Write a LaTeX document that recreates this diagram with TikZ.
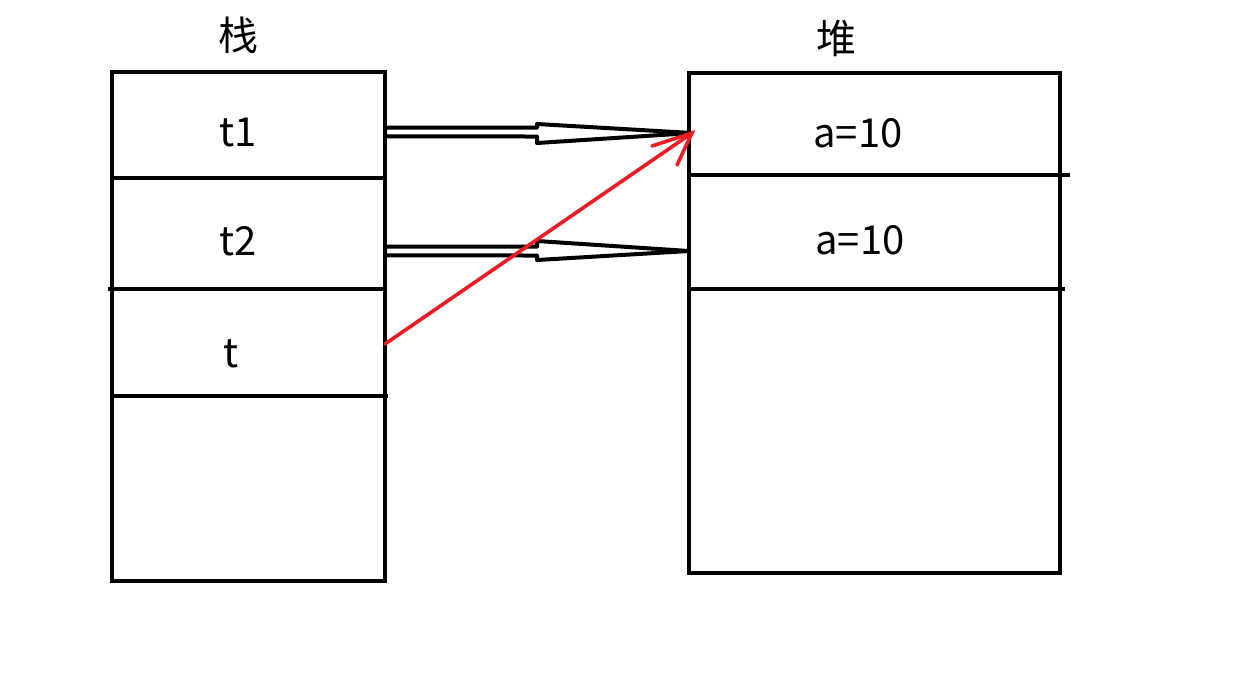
\documentclass[tikz,border=0pt]{standalone}
\usepackage{fontspec}
\setmainfont{Noto Sans CJK SC}
\begin{document}
\begin{tikzpicture}[x=0.5pt,y=-0.5pt,
  box/.style={draw=black,line width=2pt},
  divider/.style={draw=black,line width=2pt},
  lbl/.style={font=\fontsize{20pt}{24pt}\selectfont,inner sep=0pt,anchor=center},
  hollow/.style={draw=black,fill=white,line width=2pt,line join=round,line cap=round},
  ptr/.style={draw={rgb,255:red,237;green,28;blue,36},line width=1.8pt,line cap=round}]
\useasboundingbox (0,0) rectangle (1242,692);
% stack
\draw[box] (112,72) rectangle (385,581);
\draw[divider] (112,178) -- (385,178);
\draw[divider] (108,289) -- (385,289);
\draw[divider] (112,396) -- (388,396);
% heap
\draw[box] (689,73) rectangle (1060,573);
\draw[divider] (689,175) -- (1070,175);
\draw[divider] (689,289) -- (1065,289);
% labels
\node[lbl] (zhan) at (238,35) {栈};
\node[lbl] (dui) at (836,38) {堆};
\node[lbl] (t1) at (238,132) {t1};
\node[lbl] (t2) at (238,241) {t2};
\node[lbl] (t) at (231,354) {t};
\node[lbl] (a1) at (858,133) {a=10};
\node[lbl] (a2) at (860,240) {a=10};
% anchor coordinates
\coordinate (s1) at (385,132);
\coordinate (h1) at (692,133);
\coordinate (s2) at (385,251);
\coordinate (h2) at (689,251);
\coordinate (s3) at (385,344);
% hollow arrows
\draw[hollow] ([yshift=2.2pt]s1) -- (537,127.5) -- (537,124) -- (h1) -- (537,143) -- (537,136.5) -- ([yshift=-2.2pt]s1) -- cycle;
\draw[hollow] ([yshift=2.2pt]s2) -- (537,246.5) -- (537,241) -- (h2) -- (537,260) -- (537,255.5) -- ([yshift=-2.2pt]s2) -- cycle;
% red pointer
\draw[ptr] (s3) -- (h1);
\draw[ptr] (652,146) -- (h1) -- (677,165);
\end{tikzpicture}
\end{document}
